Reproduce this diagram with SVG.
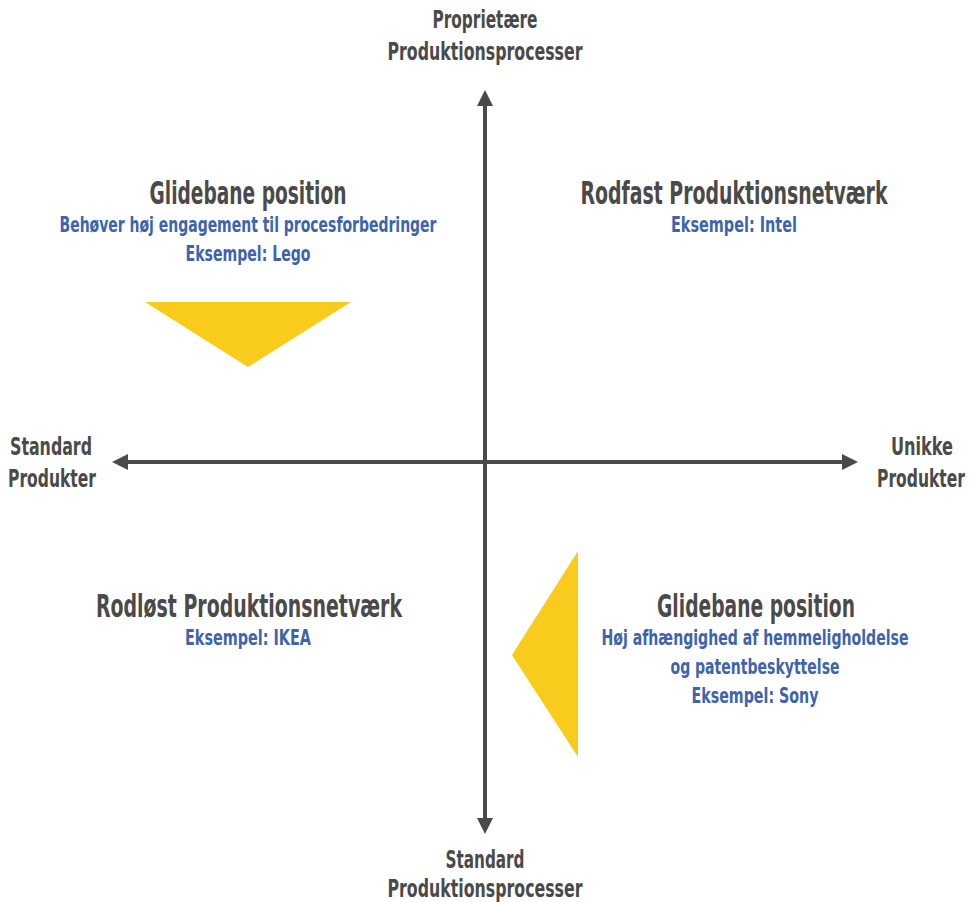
<svg xmlns="http://www.w3.org/2000/svg" width="980" height="902" viewBox="0 0 980 902">
<style>
text{font-family:"Liberation Sans Narrow","DejaVu Sans Condensed","Liberation Sans",sans-serif;font-weight:bold;text-anchor:middle}
.ax{font-size:24px;fill:#4a4a4a}
.t{font-size:32px;fill:#4a4a4a}
.s{font-size:21px;fill:#3d64ad}
.tri{fill:#f9cb1c}
.axis{stroke:#4a4a4a;stroke-width:4;fill:none}
.head{fill:#4a4a4a}
</style>
<rect width="980" height="902" fill="#ffffff"/>
<g id="connectors">
<line class="axis" x1="485" y1="104" x2="485" y2="820"/>
<line class="axis" x1="126" y1="462" x2="844" y2="462"/>
<polygon class="head" points="485,90 477,106 493,106"/>
<polygon class="head" points="485,834 477,818 493,818"/>
<polygon class="head" points="112,462 128,454 128,470"/>
<polygon class="head" points="858,462 842,454 842,470"/>
</g>
<g id="axis-top">
<text class="ax" x="485" y="28" textLength="105" lengthAdjust="spacingAndGlyphs">Proprietære</text>
<text class="ax" x="485" y="60" textLength="195" lengthAdjust="spacingAndGlyphs">Produktionsprocesser</text>
</g>
<g id="axis-bottom">
<text class="ax" x="485" y="868" textLength="79" lengthAdjust="spacingAndGlyphs">Standard</text>
<text class="ax" x="485" y="897" textLength="195" lengthAdjust="spacingAndGlyphs">Produktionsprocesser</text>
</g>
<g id="axis-left">
<text class="ax" x="51" y="455" textLength="82" lengthAdjust="spacingAndGlyphs">Standard</text>
<text class="ax" x="52" y="487" textLength="88" lengthAdjust="spacingAndGlyphs">Produkter</text>
</g>
<g id="axis-right">
<text class="ax" x="922" y="455" textLength="62" lengthAdjust="spacingAndGlyphs">Unikke</text>
<text class="ax" x="921" y="487" textLength="88" lengthAdjust="spacingAndGlyphs">Produkter</text>
</g>
<g id="q-top-left">
<text class="t" x="248" y="204" textLength="197" lengthAdjust="spacingAndGlyphs">Glidebane position</text>
<text class="s" x="248" y="232" textLength="377" lengthAdjust="spacingAndGlyphs">Behøver høj engagement til procesforbedringer</text>
<text class="s" x="248" y="261" textLength="125" lengthAdjust="spacingAndGlyphs">Eksempel: Lego</text>
</g>
<g id="q-top-right">
<text class="t" x="734" y="204" textLength="307" lengthAdjust="spacingAndGlyphs">Rodfast Produktionsnetværk</text>
<text class="s" x="734" y="232" textLength="126" lengthAdjust="spacingAndGlyphs">Eksempel: Intel</text>
</g>
<g id="q-bottom-left">
<text class="t" x="249" y="617" textLength="306" lengthAdjust="spacingAndGlyphs">Rodløst Produktionsnetværk</text>
<text class="s" x="248" y="645" textLength="126" lengthAdjust="spacingAndGlyphs">Eksempel: IKEA</text>
</g>
<g id="q-bottom-right">
<text class="t" x="756" y="617" textLength="198" lengthAdjust="spacingAndGlyphs">Glidebane position</text>
<text class="s" x="755" y="645" textLength="307" lengthAdjust="spacingAndGlyphs">Høj afhængighed af hemmeligholdelse</text>
<text class="s" x="755" y="674" textLength="169" lengthAdjust="spacingAndGlyphs">og patentbeskyttelse</text>
<text class="s" x="755" y="703" textLength="127" lengthAdjust="spacingAndGlyphs">Eksempel: Sony</text>
</g>
<g id="triangle-top">
<polygon class="tri" points="145,302 351,302 248,367"/>
</g>
<g id="triangle-right">
<polygon class="tri" points="578,551 578,757 512,655"/>
</g>
</svg>
